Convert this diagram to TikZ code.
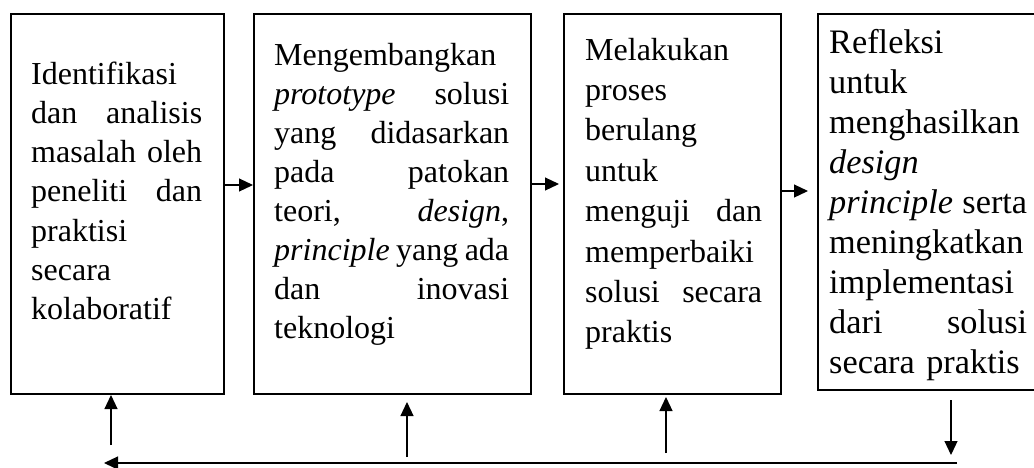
\documentclass[tikz,border=0pt]{standalone}
\usepackage{fontspec}
\setmainfont{Liberation Serif}
\usetikzlibrary{arrows.meta}
% justified line of a given width; \js is a stretchable word space
\newcommand{\js}{\hspace{0.25em plus 1fill minus 0.12em}}
\newcommand{\jl}[2]{\leavevmode\hbox to #1{#2}}
\begin{document}
\begin{tikzpicture}[x=1pt,y=-1pt,
  box/.style={draw, line width=2pt, inner sep=0pt, anchor=north west},
  txt/.style={anchor=base west, inner sep=0pt, align=left,
              font=\fontsize{32}{39.3}\selectfont},
  arr/.style={line width=1.2pt, -{Triangle[length=14pt,width=13pt]}}]
\useasboundingbox (0,0) rectangle (1034,467);

% the four stages
\node[box, minimum width=213pt, minimum height=380pt] (b1) at (10,13) {};
\node[box, minimum width=277pt, minimum height=380pt] (b2) at (253,13) {};
\node[box, minimum width=217pt, minimum height=380pt] (b3) at (563,13) {};
\node[box, minimum width=224pt, minimum height=376pt] (b4) at (817,13) {};

\node[txt, text width=171pt] (t1) at (31,84) {%
Identifikasi\\
\jl{171pt}{dan\js analisis}\\
\jl{171pt}{masalah\js oleh}\\
\jl{171pt}{peneliti\js dan}\\
praktisi\\
secara\\
kolaboratif};

\node[txt, text width=235pt, font=\fontsize{32}{39}\selectfont] (t2) at (274,65) {%
Mengembangkan\\
\jl{235pt}{\textit{prototype}\js solusi}\\
\jl{235pt}{yang\js didasarkan}\\
\jl{235pt}{pada\js patokan}\\
\jl{235pt}{teori,\js \textit{design},}\\
\jl{235pt}{\textit{principle}\js yang\js ada}\\
\jl{235pt}{dan\js inovasi}\\
teknologi};

\node[txt, text width=177pt, font=\fontsize{32}{40.4}\selectfont] (t3) at (585,60) {%
Melakukan\\
proses\\
berulang\\
untuk\\
\jl{177pt}{menguji\js dan}\\
memperbaiki\\
\jl{177pt}{solusi\js secara}\\
praktis};

\node[txt, text width=198pt, font=\fontsize{34.3}{40}\selectfont] (t4) at (829,53) {%
Refleksi\\
untuk\\
menghasilkan\\
\textit{design}\\
\jl{198pt}{\textit{principle}\js serta}\\
meningkatkan\\
implementasi\\
\jl{198pt}{dari\js solusi}\\
secara praktis};

% forward flow between the stages
\draw[arr] ([yshift=19pt]b1.east) -- ([yshift=19pt]b2.west);
\draw[arr] ([yshift=20pt]b2.east) -- ([yshift=20pt,xshift=-4pt]b3.west);
\draw[arr] ([yshift=13pt]b3.east) -- ([yshift=11pt,xshift=-9pt]b4.west);

% feedback loop along the bottom
\coordinate (fr) at (957,463);
\coordinate (fl) at (104,463);
\coordinate (u1) at (111,445);
\coordinate (u2) at (407,457);
\coordinate (u3) at (666,453);
\coordinate (d4) at (951,455);

\draw[arr] ([yshift=-9pt]d4 |- b4.south) -- (d4);
\draw[arr] (fr) -- (fl);
\draw[arr] (u1) -- (u1 |- b1.south);
\draw[arr] (u2) -- ([yshift=-7pt]u2 |- b2.south);
\draw[arr] (u3) -- ([yshift=-2pt]u3 |- b3.south);
\end{tikzpicture}
\end{document}
